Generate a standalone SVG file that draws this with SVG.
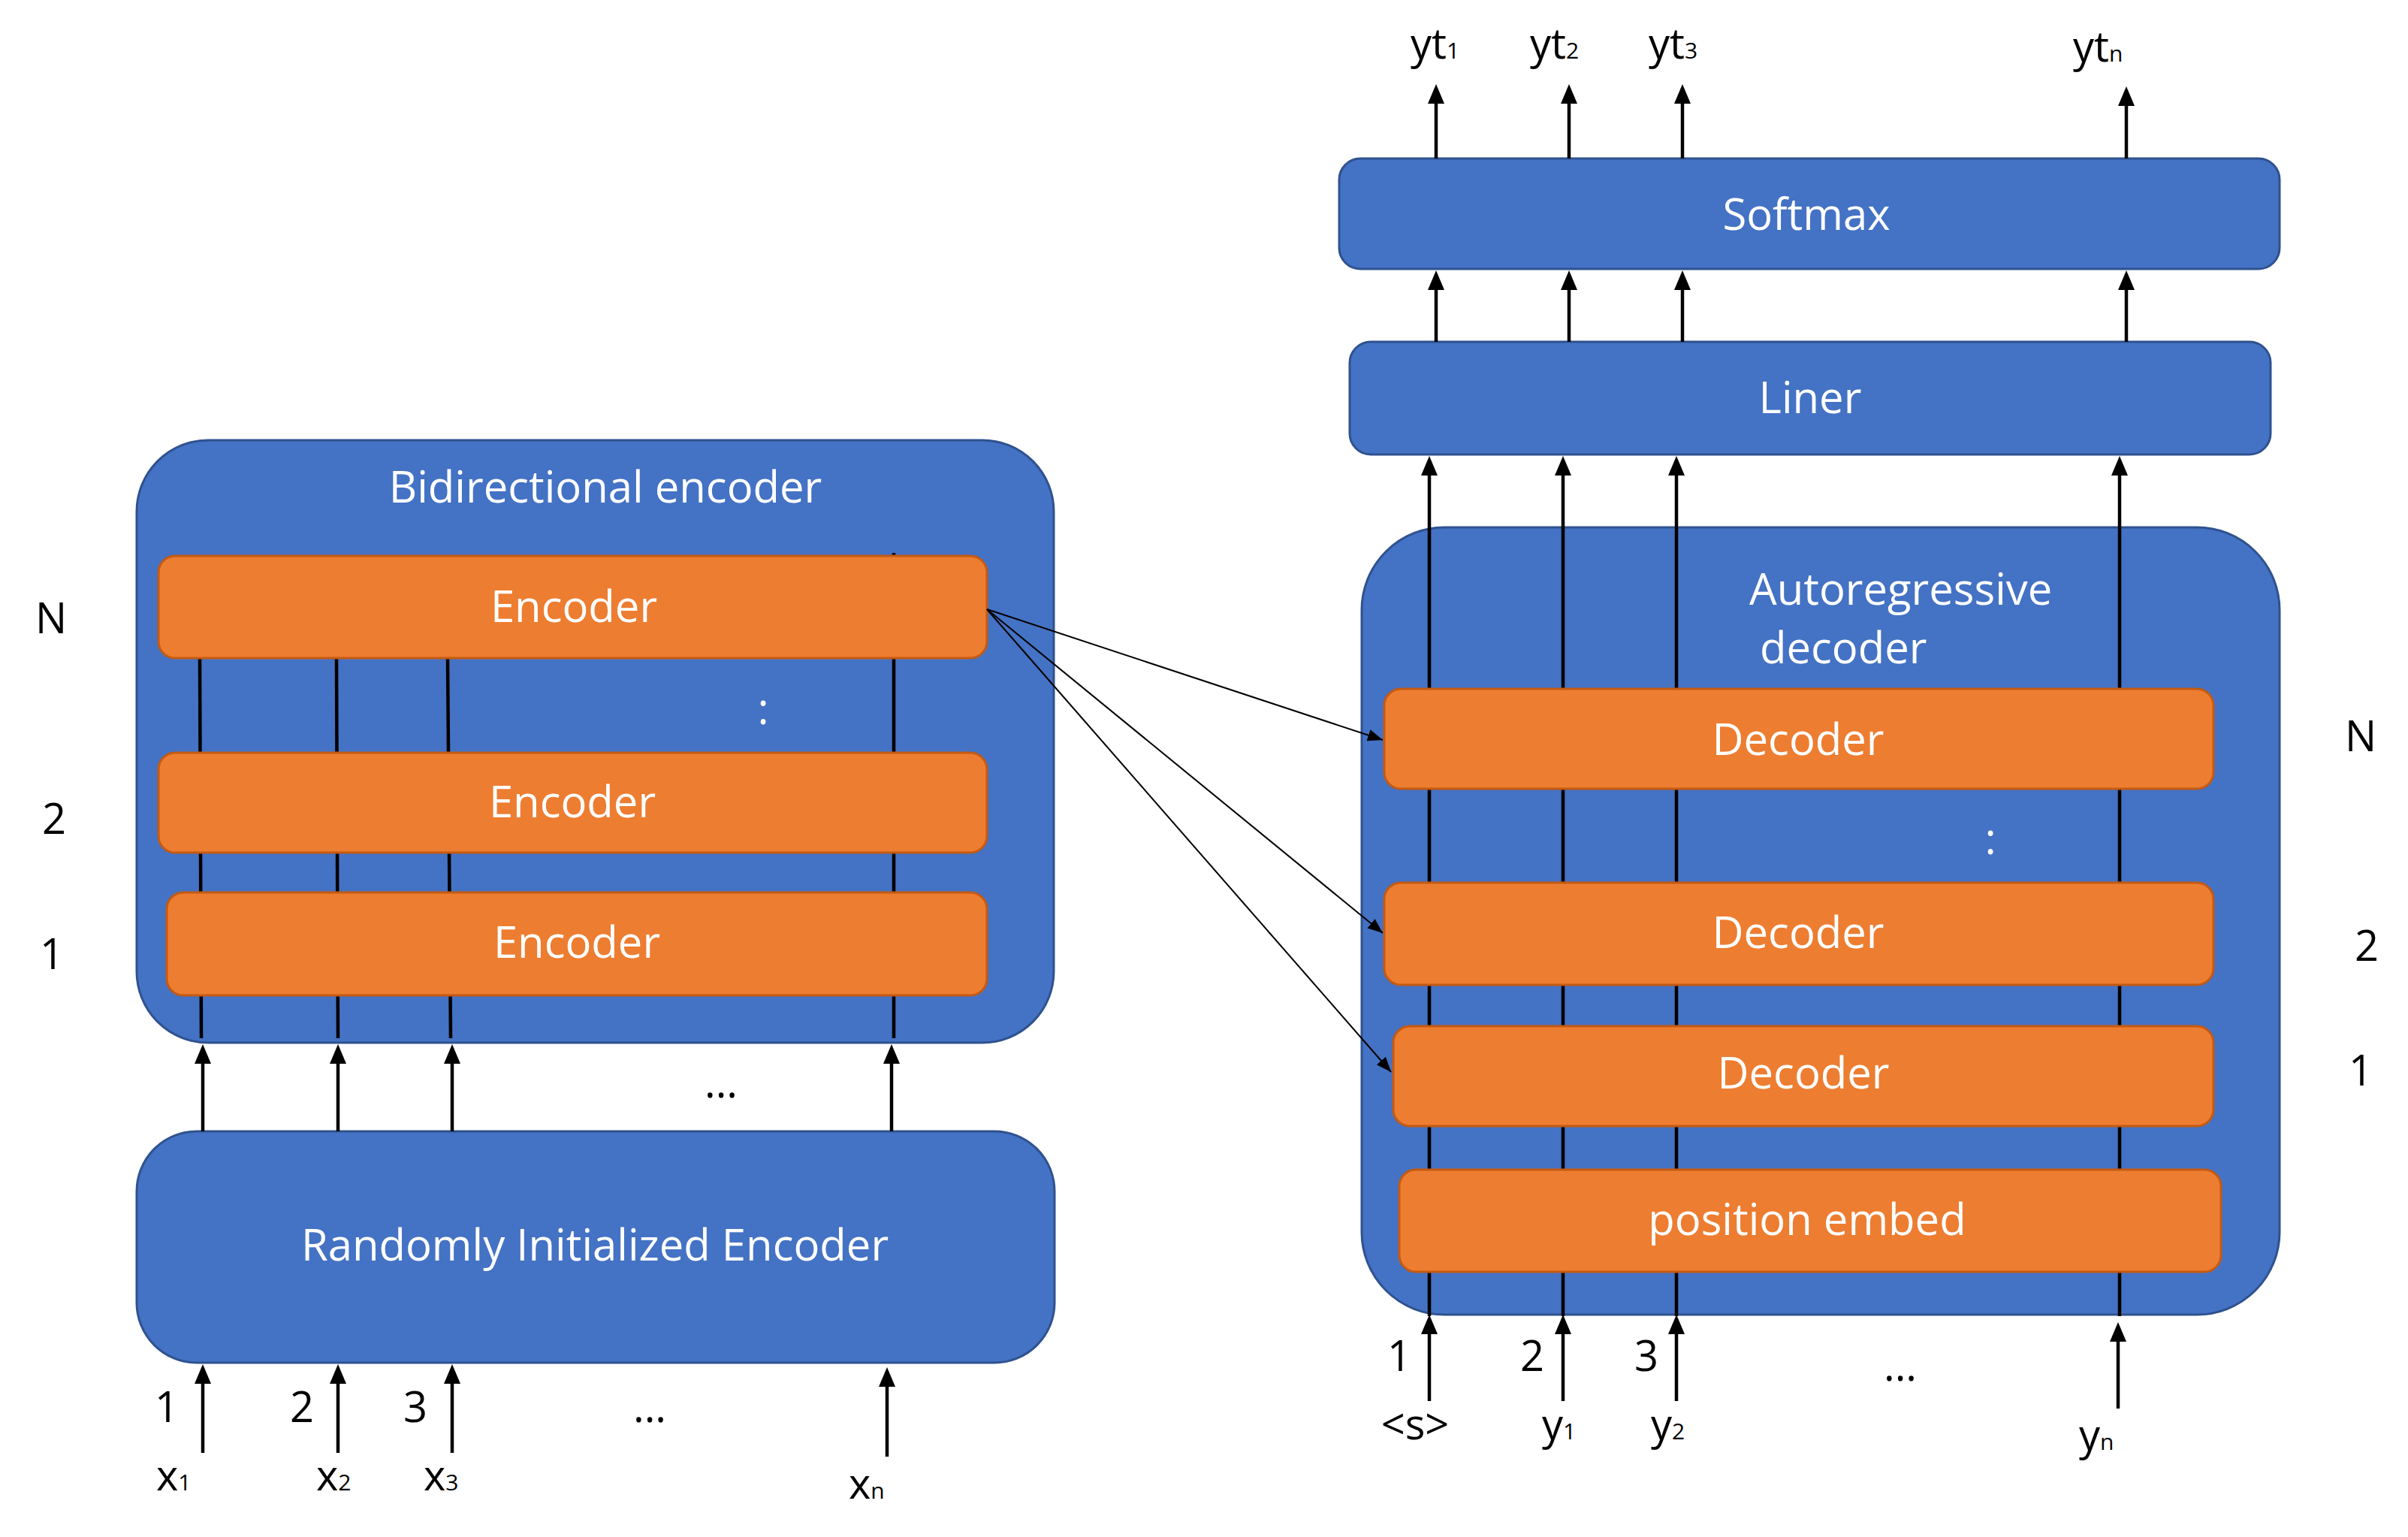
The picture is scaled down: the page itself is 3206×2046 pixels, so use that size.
<svg xmlns="http://www.w3.org/2000/svg" width="3206" height="2046" viewBox="0 0 3206 2046">
<defs>
<marker id="ah" markerUnits="userSpaceOnUse" markerWidth="28" markerHeight="24" refX="20" refY="11" orient="auto">
<path d="M0,0 L26,11 L0,22 z" fill="#000"/>
</marker>
<marker id="ahs" markerUnits="userSpaceOnUse" markerWidth="22" markerHeight="18" refX="20" refY="8" orient="auto">
<path d="M0,0 L20,8 L0,16 z" fill="#000"/>
</marker>
</defs>
<style>
.blue{fill:#4472C4;stroke:#2F528F;stroke-width:3}
.org{fill:#ED7D31;stroke:#C55A11;stroke-width:3}
.wt{fill:#fff;font-family:"Open Sans","Liberation Sans",sans-serif;font-size:58px;text-anchor:middle}
.ws{fill:#fff;font-family:"Open Sans","Liberation Sans",sans-serif;font-size:58px;text-anchor:start}
.bt{fill:#000;font-family:"Open Sans","Liberation Sans",sans-serif;font-size:56px;text-anchor:middle}
.bl{fill:#000;font-family:"Open Sans","Liberation Sans",sans-serif;font-size:56px}
.sub{font-size:30px}
.ln{stroke:#000;stroke-width:4.5;fill:none}
.arr{stroke:#000;stroke-width:4.5;fill:none;marker-end:url(#ah)}
.thin{stroke:#000;stroke-width:2;fill:none;marker-end:url(#ahs)}
</style>
<rect width="3206" height="2046" fill="#fff"/>

<g id="bidirectional-encoder">
<rect class="blue" x="182" y="586" width="1221" height="802" rx="95"/>
<text class="wt" x="806" y="669" font-size="57">Bidirectional encoder</text>
</g>
<g id="encoder-lines">
<line class="ln" x1="268" y1="1382" x2="266" y2="876"/>
<line class="ln" x1="450" y1="1382" x2="448" y2="876"/>
<line class="ln" x1="600" y1="1382" x2="596" y2="876"/>
<line class="ln" x1="1190" y1="1382" x2="1190" y2="736"/>
</g>
<g id="encoder-n">
<rect class="org" x="211" y="740" width="1103" height="136" rx="22"/>
<text class="wt" x="764" y="828">Encoder</text>
</g>
<g id="encoder-2">
<rect class="org" x="211" y="1002" width="1103" height="133" rx="22"/>
<text class="wt" x="762" y="1088">Encoder</text>
</g>
<g id="encoder-1">
<rect class="org" x="222" y="1188" width="1092" height="137" rx="22"/>
<text class="wt" x="768" y="1275">Encoder</text>
</g>
<text class="wt" x="1016" y="964">:</text>
<g id="rand-encoder">
<rect class="blue" x="182" y="1506" width="1222" height="308" rx="80"/>
<text class="wt" x="792" y="1678">Randomly Initialized Encoder</text>
</g>

<g id="autoregressive-decoder">
<rect class="blue" x="1813" y="702" width="1222" height="1048" rx="110"/>
<text class="ws" x="2329" y="805">Autoregressive</text>
<text class="ws" x="2343" y="883">decoder</text>
</g>
<g id="softmax">
<rect class="blue" x="1783" y="211" width="1252" height="147" rx="28"/>
<text class="wt" x="2405" y="306">Softmax</text>
</g>
<g id="liner">
<rect class="blue" x="1797" y="455" width="1226" height="150" rx="28"/>
<text class="wt" x="2410" y="550">Liner</text>
</g>

<g id="connectors">
<line class="arr" x1="1903" y1="1752" x2="1903" y2="613"/>
<line class="arr" x1="2081" y1="1752" x2="2081" y2="613"/>
<line class="arr" x1="2232" y1="1752" x2="2232" y2="613"/>
<line class="arr" x1="2822" y1="1752" x2="2822" y2="613"/>
<line class="arr" x1="270" y1="1506" x2="270" y2="1396"/>
<line class="arr" x1="450" y1="1506" x2="450" y2="1396"/>
<line class="arr" x1="602" y1="1506" x2="602" y2="1396"/>
<line class="arr" x1="1187" y1="1506" x2="1187" y2="1396"/>
<line class="arr" x1="270" y1="1934" x2="270" y2="1822"/>
<line class="arr" x1="450" y1="1934" x2="450" y2="1822"/>
<line class="arr" x1="602" y1="1934" x2="602" y2="1822"/>
<line class="arr" x1="1181" y1="1939" x2="1181" y2="1826"/>
<line class="arr" x1="1912" y1="211" x2="1912" y2="118"/>
<line class="arr" x1="2089" y1="211" x2="2089" y2="118"/>
<line class="arr" x1="2240" y1="211" x2="2240" y2="118"/>
<line class="arr" x1="2831" y1="211" x2="2831" y2="121"/>
<line class="arr" x1="1912" y1="455" x2="1912" y2="366"/>
<line class="arr" x1="2089" y1="455" x2="2089" y2="366"/>
<line class="arr" x1="2240" y1="455" x2="2240" y2="366"/>
<line class="arr" x1="2831" y1="455" x2="2831" y2="366"/>
<line class="arr" x1="1903" y1="1865" x2="1903" y2="1756"/>
<line class="arr" x1="2081" y1="1865" x2="2081" y2="1756"/>
<line class="arr" x1="2232" y1="1865" x2="2232" y2="1756"/>
<line class="arr" x1="2820" y1="1875" x2="2820" y2="1766"/>
<line class="thin" x1="1314" y1="811" x2="1841" y2="985"/>
<line class="thin" x1="1314" y1="811" x2="1841" y2="1242"/>
<line class="thin" x1="1314" y1="811" x2="1852" y2="1427"/>
</g>

<g id="decoder-n">
<rect class="org" x="1843" y="917" width="1104" height="133" rx="22"/>
<text class="wt" x="2394" y="1005">Decoder</text>
</g>
<text class="wt" x="2650" y="1137">:</text>
<g id="decoder-2">
<rect class="org" x="1843" y="1175" width="1104" height="136" rx="22"/>
<text class="wt" x="2394" y="1262">Decoder</text>
</g>
<g id="decoder-1">
<rect class="org" x="1855" y="1366" width="1092" height="133" rx="22"/>
<text class="wt" x="2401" y="1449">Decoder</text>
</g>
<g id="position-embed">
<rect class="org" x="1863" y="1557" width="1094" height="136" rx="22"/>
<text class="wt" x="2406" y="1644">position embed</text>
</g>

<g id="labels">
<text class="bt" x="68" y="843">N</text>
<text class="bt" x="72" y="1110">2</text>
<text class="bt" x="69" y="1290">1</text>
<text class="bt" x="960" y="1461">...</text>
<text class="bt" x="222" y="1893">1</text>
<text class="bt" x="402" y="1893">2</text>
<text class="bt" x="553" y="1893">3</text>
<text class="bt" x="865" y="1893">...</text>
<text class="bl" x="208" y="1984">x<tspan class="sub">1</tspan></text>
<text class="bl" x="421" y="1984">x<tspan class="sub">2</tspan></text>
<text class="bl" x="564" y="1984">x<tspan class="sub">3</tspan></text>
<text class="bl" x="1130" y="1995">x<tspan class="sub">n</tspan></text>
<text class="bl" x="1878" y="78">yt<tspan class="sub">1</tspan></text>
<text class="bl" x="2037" y="78">yt<tspan class="sub">2</tspan></text>
<text class="bl" x="2195" y="78">yt<tspan class="sub">3</tspan></text>
<text class="bl" x="2760" y="82">yt<tspan class="sub">n</tspan></text>
<text class="bt" x="3143" y="1000">N</text>
<text class="bt" x="3151" y="1279">2</text>
<text class="bt" x="3143" y="1445">1</text>
<text class="bt" x="1863" y="1825">1</text>
<text class="bt" x="2040" y="1825">2</text>
<text class="bt" x="2192" y="1825">3</text>
<text class="bt" x="2530" y="1838">...</text>
<text class="bt" x="1884" y="1916">&lt;s&gt;</text>
<text class="bl" x="2053" y="1916">y<tspan class="sub">1</tspan></text>
<text class="bl" x="2198" y="1916">y<tspan class="sub">2</tspan></text>
<text class="bl" x="2768" y="1930">y<tspan class="sub">n</tspan></text>
</g>
</svg>
